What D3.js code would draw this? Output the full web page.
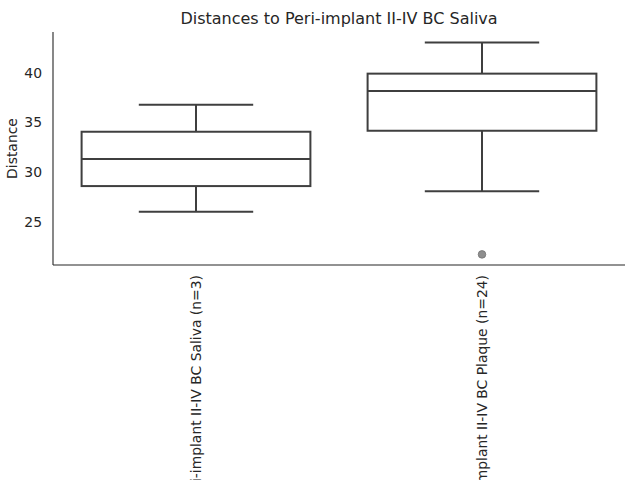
<!DOCTYPE html>
<html><head><meta charset="utf-8">
<script src="https://cdn.jsdelivr.net/npm/d3@7"></script>
<style>body{margin:0;background:#fff}svg{display:block}text{font-family:"DejaVu Sans",sans-serif;fill:#262626}</style>
</head><body>
<svg id="c" width="640" height="480"></svg>
<script>
const categories = ["Peri-implant II-IV BC Saliva (n=3)", "Peri-implant II-IV BC Plaque (n=24)"];
const whiskerLow = [25.99, 28.08];
const q1 = [28.59, 34.17];
const median = [31.31, 38.18];
const q3 = [34.07, 39.93];
const whiskerHigh = [36.8, 43.06];
const outliers = [[], [21.7]];
const yTicks = [25, 30, 35, 40];
const title = "Distances to Peri-implant II-IV BC Saliva";
const yLabel = "Distance";

const m = {l: 53, r: 625, t: 32, b: 265};
const svg = d3.select("#c");
const x = d3.scaleBand().domain(categories).range([m.l, m.r]).paddingInner(0).paddingOuter(0);
const y = d3.scaleLinear().domain([20.63, 44.13]).range([m.b, m.t]);
const lc = "#3f3f3f", lw = 2;

// axes
const ya = svg.append("g").attr("transform", `translate(${m.l},0)`)
  .call(d3.axisLeft(y).tickValues(yTicks).tickSize(0).tickPadding(11));
ya.select(".domain").remove();
ya.selectAll("text").attr("font-size", 13.9).style("fill", "#262626");
const xa = svg.append("g").attr("transform", `translate(0,${m.b})`)
  .call(d3.axisBottom(x).tickSize(0).tickPadding(0));
xa.select(".domain").remove();
xa.selectAll("text").attr("font-size", 13.9).style("fill", "#262626")
  .attr("text-anchor", "end").attr("dy", null)
  .attr("transform", "translate(5,10) rotate(-90)");
svg.append("line").attr("x1", m.l).attr("x2", m.l).attr("y1", m.t).attr("y2", m.b).attr("stroke", "#262626").attr("stroke-width", 1.1);
svg.append("line").attr("x1", m.l).attr("x2", m.r).attr("y1", m.b).attr("y2", m.b).attr("stroke", "#262626").attr("stroke-width", 1.1);

const bw = x.bandwidth() * 0.8;
categories.forEach((c, i) => {
  const cx = x(c) + x.bandwidth() / 2;
  const g = svg.append("g").attr("stroke", lc).attr("stroke-width", lw).attr("fill", "none");
  g.append("line").attr("x1", cx).attr("x2", cx).attr("y1", y(q1[i])).attr("y2", y(whiskerLow[i]));
  g.append("line").attr("x1", cx).attr("x2", cx).attr("y1", y(q3[i])).attr("y2", y(whiskerHigh[i]));
  g.append("line").attr("x1", cx - bw / 4).attr("x2", cx + bw / 4).attr("y1", y(whiskerLow[i])).attr("y2", y(whiskerLow[i]));
  g.append("line").attr("x1", cx - bw / 4).attr("x2", cx + bw / 4).attr("y1", y(whiskerHigh[i])).attr("y2", y(whiskerHigh[i]));
  g.append("rect").attr("x", cx - bw / 2).attr("width", bw).attr("y", y(q3[i])).attr("height", y(q1[i]) - y(q3[i])).attr("fill", "#fff");
  g.append("line").attr("x1", cx - bw / 2).attr("x2", cx + bw / 2).attr("y1", y(median[i])).attr("y2", y(median[i]));
  outliers[i].forEach(v => {
    svg.append("circle").attr("cx", cx).attr("cy", y(v)).attr("r", 3.8).attr("fill", "#8e8e8e").attr("stroke", "#737373").attr("stroke-width", 0.8);
  });
});

svg.append("text").attr("x", (m.l + m.r) / 2).attr("y", 24).attr("text-anchor", "middle").attr("font-size", 16).text(title);
svg.append("text").attr("transform", `translate(17,${(m.t + m.b) / 2}) rotate(-90)`).attr("text-anchor", "middle").attr("font-size", 13.9).text(yLabel);
</script>
</body></html>
